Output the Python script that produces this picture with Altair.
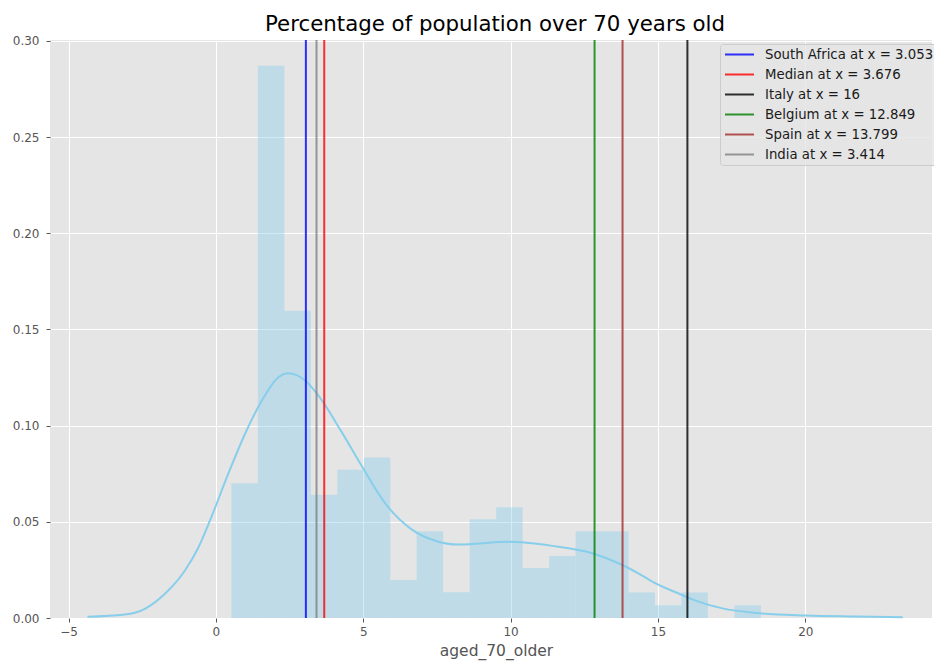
import altair as alt
import pandas as pd

# Histogram of aged_70_older (density-normalised), 20 equal-width bins
bin_start = [0.526, 1.424, 2.323, 3.221, 4.120, 5.018, 5.916, 6.815, 7.713, 8.612,
             9.510, 10.408, 11.307, 12.205, 13.104, 14.002, 14.900, 15.799, 16.697, 17.596]
bin_end = [1.424, 2.323, 3.221, 4.120, 5.018, 5.916, 6.815, 7.713, 8.612, 9.510,
           10.408, 11.307, 12.205, 13.104, 14.002, 14.900, 15.799, 16.697, 17.596, 18.494]
bin_density = [0.0701, 0.2871, 0.1598, 0.0641, 0.0771, 0.0834, 0.0197, 0.0451, 0.0134, 0.0513,
               0.0576, 0.0260, 0.0322, 0.0451, 0.0451, 0.0133, 0.0066, 0.0133, 0.0, 0.0066]

# Kernel density estimate curve
kde_x = [-4.36, -3.09, -2.41, -1.73, -1.05, -0.59, -0.20, 0.42, 0.99, 1.56,
         2.12, 2.46, 3.03, 3.43, 4.26, 4.94, 5.74, 6.64, 7.44, 8.23,
         9.93, 11.41, 12.77, 13.70, 14.36, 14.92, 15.72, 16.23, 17.19, 18.33,
         20.03, 21.73, 23.31]
kde_density = [0.0006, 0.0018, 0.0048, 0.0126, 0.0247, 0.0368, 0.0507, 0.0750, 0.0958, 0.1131,
               0.1252, 0.1273, 0.1235, 0.1166, 0.0969, 0.0793, 0.0597, 0.0461, 0.0402, 0.0382,
               0.0396, 0.0375, 0.0337, 0.0282, 0.0230, 0.0180, 0.0126, 0.0093, 0.0050, 0.0026,
               0.0013, 0.0008, 0.0004]

# Reference lines
marker_names = ["South Africa", "Median", "Italy", "Belgium", "Spain", "India"]
marker_values = [3.053, 3.676, 16, 12.849, 13.799, 3.414]
marker_colors = ["#0000ff", "#ff0000", "#000000", "#008000", "#a52a2a", "#808080"]

x_ticks = [-5, 0, 5, 10, 15, 20]
y_ticks = [0.0, 0.05, 0.10, 0.15, 0.20, 0.25, 0.30]

hist_df = pd.DataFrame({"start": bin_start, "end": bin_end, "density": bin_density})
hist_df = hist_df[hist_df["density"] > 0]
hist_df["base"] = 0.0
kde_df = pd.DataFrame({"x": kde_x, "density": kde_density})
marker_labels = [f"{n} at x = {v}" for n, v in zip(marker_names, marker_values)]
marker_df = pd.DataFrame({"label": marker_labels, "value": marker_values})

FONT = "DejaVu Sans"
x_scale = alt.Scale(domain=[-5.63, 24.3], nice=False, zero=False)
y_scale = alt.Scale(domain=[0, 0.3005], nice=False, zero=False)

x_axis = alt.Axis(values=x_ticks, title="aged_70_older", format="d", titleX=446)
y_axis = alt.Axis(values=y_ticks, title=None, format=".2f")

hist = alt.Chart(hist_df).mark_rect(color="#87ceeb", opacity=0.4).encode(
    x=alt.X("start:Q", scale=x_scale, axis=x_axis),
    x2="end:Q",
    y=alt.Y("density:Q", scale=y_scale, axis=y_axis),
    y2="base:Q",
)

kde = alt.Chart(kde_df).mark_line(color="#87ceeb", strokeWidth=2, interpolate="monotone").encode(
    x=alt.X("x:Q", scale=x_scale),
    y=alt.Y("density:Q", scale=y_scale),
)

rules = alt.Chart(marker_df).mark_rule(strokeWidth=2, opacity=0.8).encode(
    x=alt.X("value:Q", scale=x_scale),
    color=alt.Color(
        "label:N",
        scale=alt.Scale(domain=marker_labels, range=marker_colors),
        sort=marker_labels,
        legend=alt.Legend(
            title=None,
            orient="none",
            legendX=670,
            legendY=4,
            symbolType="stroke",
            symbolSize=841,
            symbolStrokeWidth=2,
            clipHeight=13,
            labelFont=FONT,
            labelFontSize=13.3,
            labelColor="#1a1a1a",
            labelOffset=10,
            labelLimit=400,
            rowPadding=6,
            padding=4,
            fillColor="rgba(229,229,229,0.8)",
            strokeColor="#cccccc",
            cornerRadius=3,
        ),
    ),
)

chart = (
    alt.layer(hist, kde, rules)
    .properties(
        width=882,
        height=578,
        padding={"left": 50, "top": 40, "right": 2, "bottom": 48},
        autosize=alt.AutoSizeParams(type="none"),
        title=alt.TitleParams(
            "Percentage of population over 70 years old",
            font=FONT,
            fontSize=21.3,
            fontWeight="normal",
            color="#000000",
            offset=0,
            dx=4,
        ),
    )
    .configure_view(fill="#e5e5e5", strokeWidth=0)
    .configure_axis(
        domain=False,
        grid=True,
        gridColor="#ffffff",
        gridWidth=1,
        tickColor="#555555",
        tickSize=4,
        labelColor="#555555",
        labelFont=FONT,
        labelFontSize=12,
        labelPadding=4,
        titleFont=FONT,
        titleFontSize=15.5,
        titleFontWeight="normal",
        titleColor="#555555",
        titlePadding=6,
    )
    .configure_axisY(labelPadding=7)
)

chart.save("out.html", embed_options={"renderer": "svg", "actions": False})
